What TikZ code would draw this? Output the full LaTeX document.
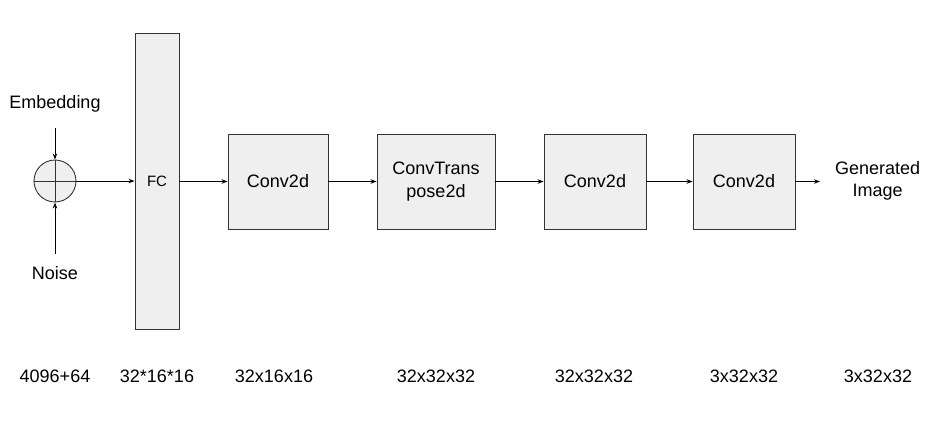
\documentclass[tikz,border=0pt]{standalone}
\usepackage{fontspec}
\setmainfont{Liberation Sans}
\usetikzlibrary{arrows.meta}
\definecolor{boxfill}{HTML}{EFEFEF}
\definecolor{edge}{HTML}{333333}
\begin{document}
\begin{tikzpicture}[x=1pt,y=-1pt,
  lbl/.style={font=\fontsize{18}{22.5}\selectfont, align=center, inner sep=0pt, text=black},
  layer/.style={draw=edge, fill=boxfill, line width=0.9pt, inner sep=0pt, font=\fontsize{18}{22.5}\selectfont, align=center},
  conn/.style={draw=black, line width=0.9pt, -{Stealth[length=6pt,width=4.5pt]}}
]
\useasboundingbox (0,0) rectangle (935,428);
% sum circle
\node[draw=edge, fill=boxfill, circle, minimum size=42pt, inner sep=0pt, line width=0.9pt] (sum) at (55,181) {};
\draw[edge, line width=0.9pt] (sum.north) -- (sum.south) (sum.west) -- (sum.east);
\node[lbl] (emb) at (55,104) {Embedding};
\node[lbl] (noise) at (55,273) {Noise};
\coordinate (embend) at (55,128);
\coordinate (noiseend) at (55,254);
% layers
\node[layer, minimum width=44pt, minimum height=296pt, font=\fontsize{15}{18}\selectfont] (fc) at (157,181) {FC};
\node[layer, minimum width=100pt, minimum height=95pt] (c1) at (278,181.5) {Conv2d};
\node[layer, minimum width=118pt, minimum height=95pt] (ct) at (436,181.5) {ConvTrans\\pose2d};
\node[layer, minimum width=102pt, minimum height=95pt] (c2) at (595,181.5) {Conv2d};
\node[layer, minimum width=102pt, minimum height=95pt] (c3) at (744,181.5) {Conv2d};
\node[lbl, anchor=west] (out) at (835,181) {Generated\\Image};
\coordinate (outend) at (820,181.5);
% connectors
\draw[conn] (embend) -- (sum.north);
\draw[conn] (noiseend) -- (sum.south);
\draw[conn] (sum.east) -- (fc.west |- sum.east);
\draw[conn] (fc.east |- c1.west) -- (c1.west);
\draw[conn] (c1.east) -- (ct.west);
\draw[conn] (ct.east) -- (c2.west);
\draw[conn] (c2.east) -- (c3.west);
\draw[conn] (c3.east) -- (outend);
% sizes
\node[lbl] (s0) at (55,376) {4096+64};
\node[lbl] (s1) at (157,376) {32*16*16};
\node[lbl] (s2) at (274,376) {32x16x16};
\node[lbl] (s3) at (436,376) {32x32x32};
\node[lbl] (s4) at (594,376) {32x32x32};
\node[lbl] (s5) at (744,376) {3x32x32};
\node[lbl] (s6) at (878,376) {3x32x32};
\end{tikzpicture}
\end{document}
